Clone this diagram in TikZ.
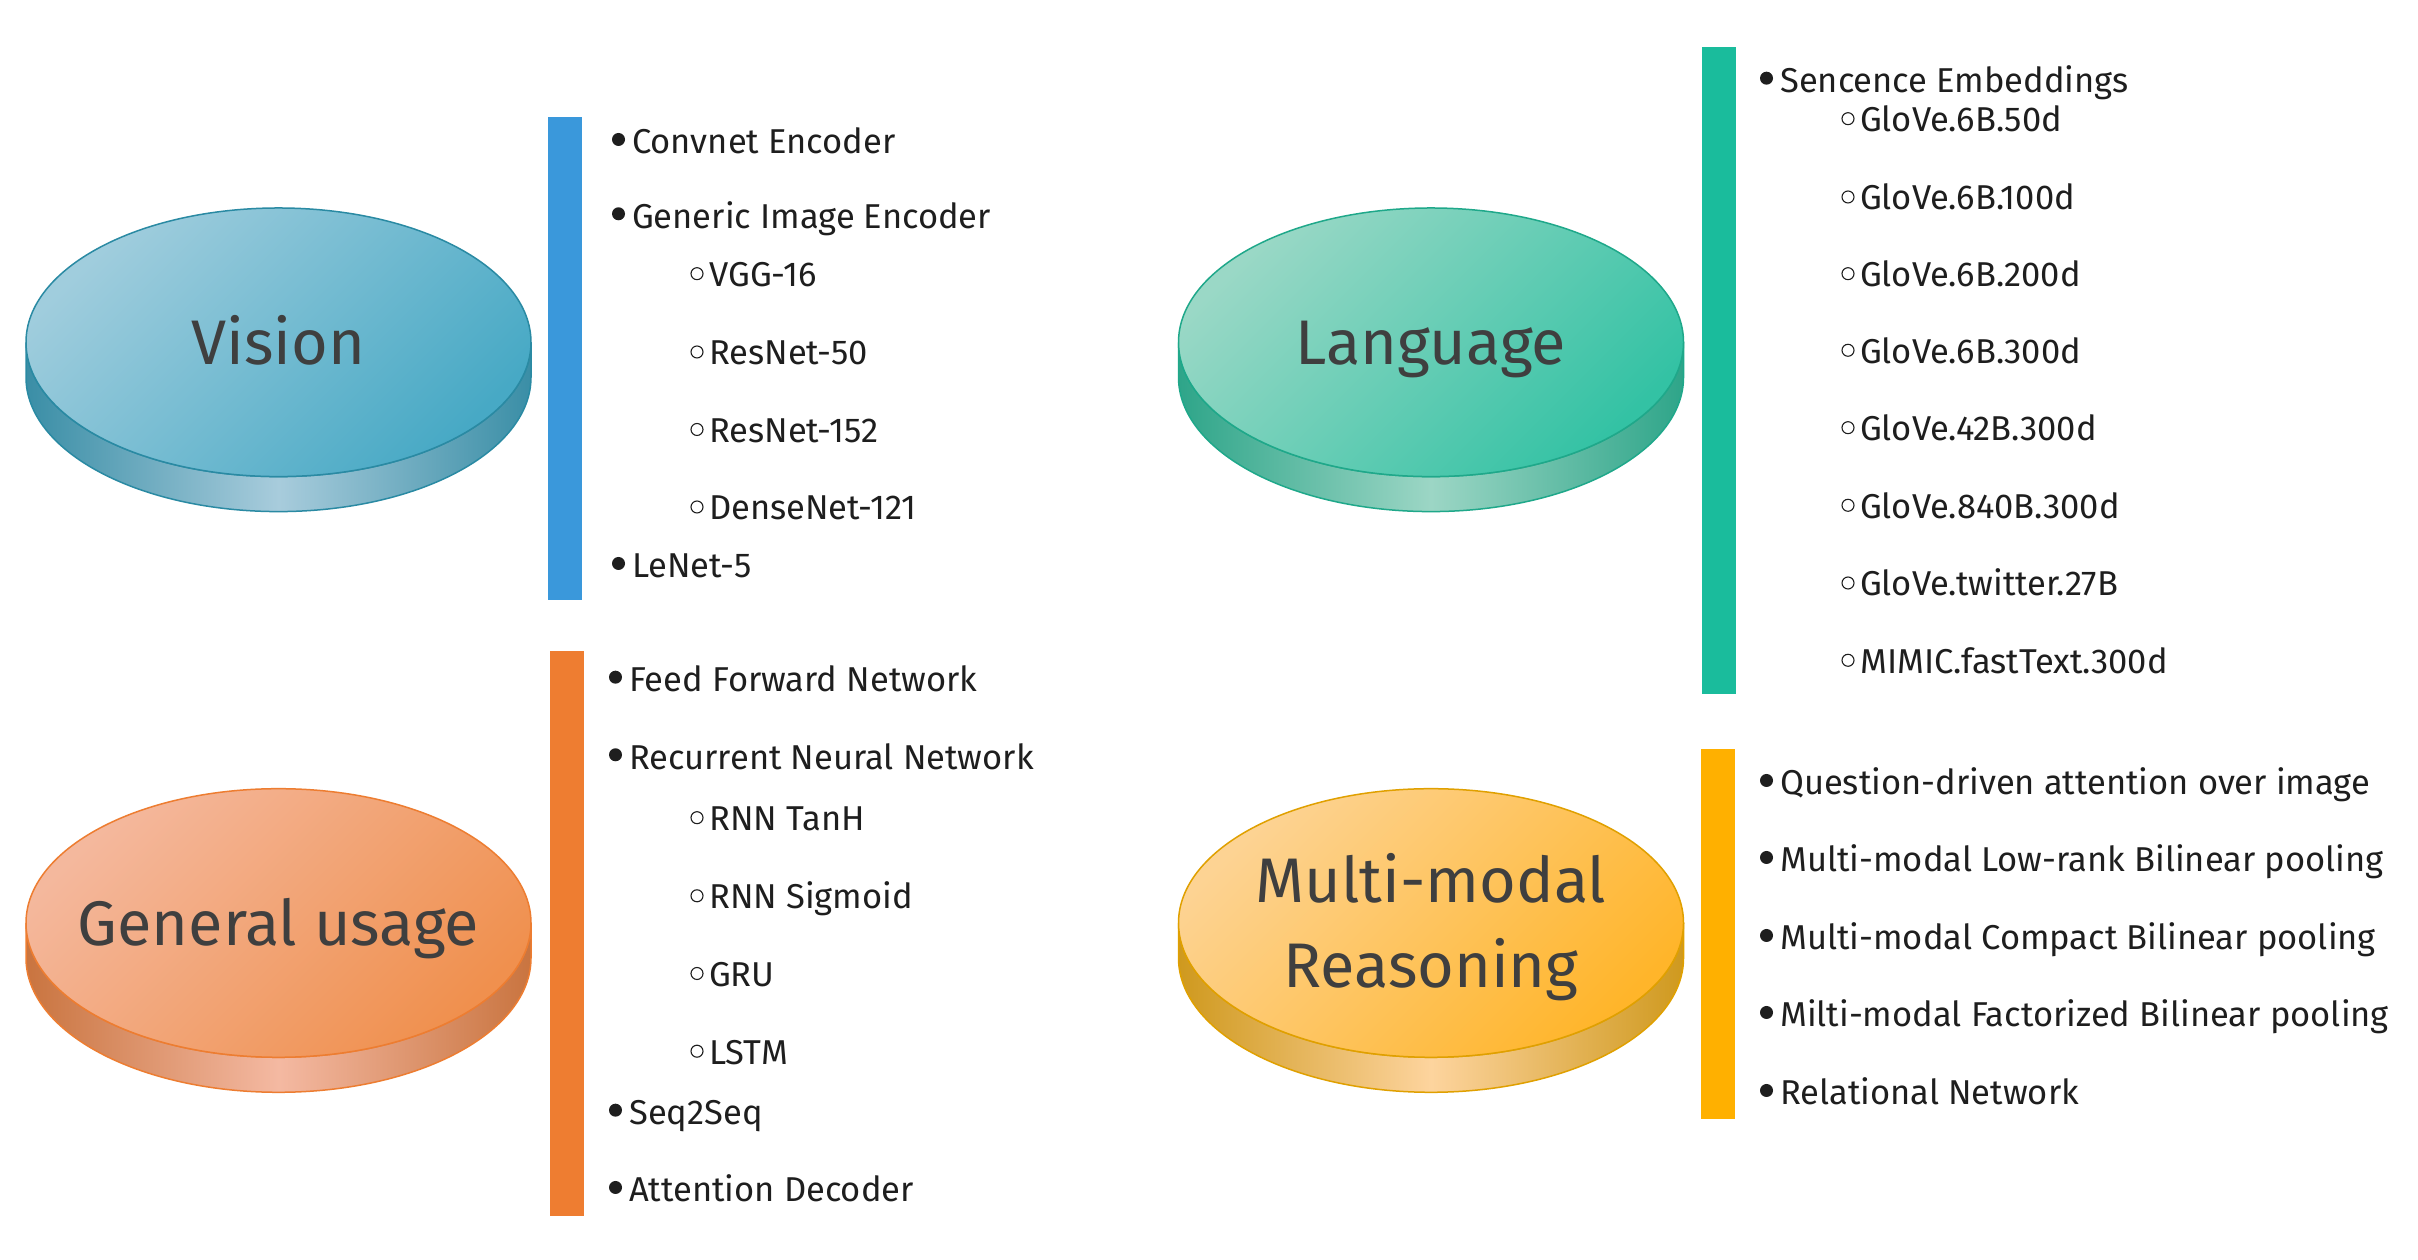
\documentclass[tikz,border=0pt]{standalone}
\usepackage{fontspec}
\setmainfont{Fira Sans}
\definecolor{txt}{HTML}{1E1E1E}
\definecolor{lbl}{HTML}{3F3F3F}
\definecolor{barB}{HTML}{3A98DB}
\definecolor{barG}{HTML}{1ABC9C}
\definecolor{barO}{HTML}{EE7D31}
\definecolor{barY}{HTML}{FFB000}
% disc colours
\definecolor{vTopA}{HTML}{A0CDDD}\definecolor{vTopB}{HTML}{47A9C5}
\definecolor{vLine}{HTML}{2A8AA3}\definecolor{vSideD}{HTML}{3A8EA6}\definecolor{vSideL}{HTML}{A8CCDC}
\definecolor{lTopA}{HTML}{9AD8C6}\definecolor{lTopB}{HTML}{33C2A4}
\definecolor{lLine}{HTML}{1FA88A}\definecolor{lSideD}{HTML}{2EA589}\definecolor{lSideL}{HTML}{9CD6C5}
\definecolor{gTopA}{HTML}{F4B89D}\definecolor{gTopB}{HTML}{F0904E}
\definecolor{gLine}{HTML}{ED7D31}\definecolor{gSideD}{HTML}{C9743F}\definecolor{gSideL}{HTML}{F4B9A2}
\definecolor{mTopA}{HTML}{FDD393}\definecolor{mTopB}{HTML}{FFB52A}
\definecolor{mLine}{HTML}{E0A000}\definecolor{mSideD}{HTML}{CF991E}\definecolor{mSideL}{HTML}{FDD49E}
\newcommand{\itemfont}{\fontsize{34.5}{41}\selectfont}
\newcommand{\lblfont}{\fontsize{63}{76}\selectfont}
\newcommand{\discdraw}[6]{% cx, cy, topA, topB, line, colour prefix
  \shade[left color=#6SideD, right color=#6SideD, middle color=#6SideL, draw=#5, line width=1.5pt]
    (#1-252.5,#2) -- (#1-252.5,#2-35) arc[start angle=180, end angle=360, x radius=252.5pt, y radius=134.3pt]
    -- (#1+252.5,#2) arc[start angle=0, end angle=-180, x radius=252.5pt, y radius=134.3pt] -- cycle;
  \shade[top color=#3, bottom color=#4, shading angle=45, draw=#5, line width=1.5pt]
    (#1,#2) ellipse[x radius=252.5pt, y radius=134.3pt];
}
\tikzset{
  item/.style={anchor=base west, inner sep=0pt, font=\itemfont, text=txt},
  disclabel/.style={anchor=base, inner sep=0pt, font=\lblfont, text=lbl},
  dotb/.style={fill=txt},
  ringb/.style={draw=txt, line width=1.1pt},
}
\begin{document}
\begin{tikzpicture}[x=1pt,y=1pt]
\useasboundingbox (0,0) rectangle (2418,1260);
\fill[white] (0,0) rectangle (2418,1260);

% discs
\discdraw{278.5}{917.7}{vTopA}{vTopB}{vLine}{v}
\discdraw{1431}{917.7}{lTopA}{lTopB}{lLine}{l}
\discdraw{278.5}{337}{gTopA}{gTopB}{gLine}{g}
\discdraw{1431}{337}{mTopA}{mTopB}{mLine}{m}

\node[disclabel] (vision) at (278.5,895) {Vision};
\node[disclabel] (language) at (1431,895) {Language};
\node[disclabel] (general) at (278.5,314) {General usage};
\node[disclabel] (mm1) at (1431,357) {Multi-modal};
\node[disclabel] (mm2) at (1431,272) {Reasoning};

% bars
\fill[barB] (548,660) rectangle (582,1143);
\fill[barG] (1702,566) rectangle (1736,1213);
\fill[barO] (550,44) rectangle (584,609);
\fill[barY] (1701,141) rectangle (1735,511);

% Vision list
\node[item] (v1) at (632,1106) {Convnet Encoder};
\node[item] (v2) at (632,1031.7) {Generic Image Encoder};
\node[item] (v3) at (709,973.3) {VGG-16};
\node[item] (v4) at (709,895) {ResNet-50};
\node[item] (v5) at (709,817.5) {ResNet-152};
\node[item] (v6) at (709,740) {DenseNet-121};
\node[item] (v7) at (632,682) {LeNet-5};
\foreach \n in {v1,v2,v7} \fill[dotb] ([xshift=-13.5pt,yshift=14.5pt]\n.base west) circle (6.5pt);
\foreach \n in {v3,v4,v5,v6} \draw[ringb] ([xshift=-12pt,yshift=13pt]\n.base west) circle (6pt);

% Language list
\node[item] (l1) at (1780,1167.3) {Sencence Embeddings};
\node[item] (l2) at (1860,1128.3) {GloVe.6B.50d};
\node[item] (l3) at (1860,1050) {GloVe.6B.100d};
\node[item] (l4) at (1860,973.3) {GloVe.6B.200d};
\node[item] (l5) at (1860,896.7) {GloVe.6B.300d};
\node[item] (l6) at (1860,819.3) {GloVe.42B.300d};
\node[item] (l7) at (1860,741.7) {GloVe.840B.300d};
\node[item] (l8) at (1860,664) {GloVe.twitter.27B};
\node[item] (l9) at (1860,586.7) {MIMIC.fastText.300d};
\fill[dotb] ([xshift=-13.5pt,yshift=14.5pt]l1.base west) circle (6.5pt);
\foreach \n in {l2,l3,l4,l5,l6,l7,l8,l9} \draw[ringb] ([xshift=-12pt,yshift=13pt]\n.base west) circle (6pt);

% General usage list
\node[item] (g1) at (629,568.3) {Feed Forward Network};
\node[item] (g2) at (629,490.7) {Recurrent Neural Network};
\node[item] (g3) at (709,429.3) {RNN TanH};
\node[item] (g4) at (709,351.2) {RNN Sigmoid};
\node[item] (g5) at (709,273.5) {GRU};
\node[item] (g6) at (709,195.8) {LSTM};
\node[item] (g7) at (629,135.3) {Seq2Seq};
\node[item] (g8) at (629,58) {Attention Decoder};
\foreach \n in {g1,g2,g7,g8} \fill[dotb] ([xshift=-13.5pt,yshift=14.5pt]\n.base west) circle (6.5pt);
\foreach \n in {g3,g4,g5,g6} \draw[ringb] ([xshift=-12pt,yshift=13pt]\n.base west) circle (6pt);

% Multi-modal list
\node[item] (m1) at (1780,465) {Question-driven attention over image};
\node[item] (m2) at (1780,388) {Multi-modal Low-rank Bilinear pooling};
\node[item] (m3) at (1780,310) {Multi-modal Compact Bilinear pooling};
\node[item] (m4) at (1780,233) {Milti-modal Factorized Bilinear pooling};
\node[item] (m5) at (1780,155) {Relational Network};
\foreach \n in {m1,m2,m3,m4,m5} \fill[dotb] ([xshift=-13.5pt,yshift=14.5pt]\n.base west) circle (6.5pt);
\end{tikzpicture}
\end{document}
